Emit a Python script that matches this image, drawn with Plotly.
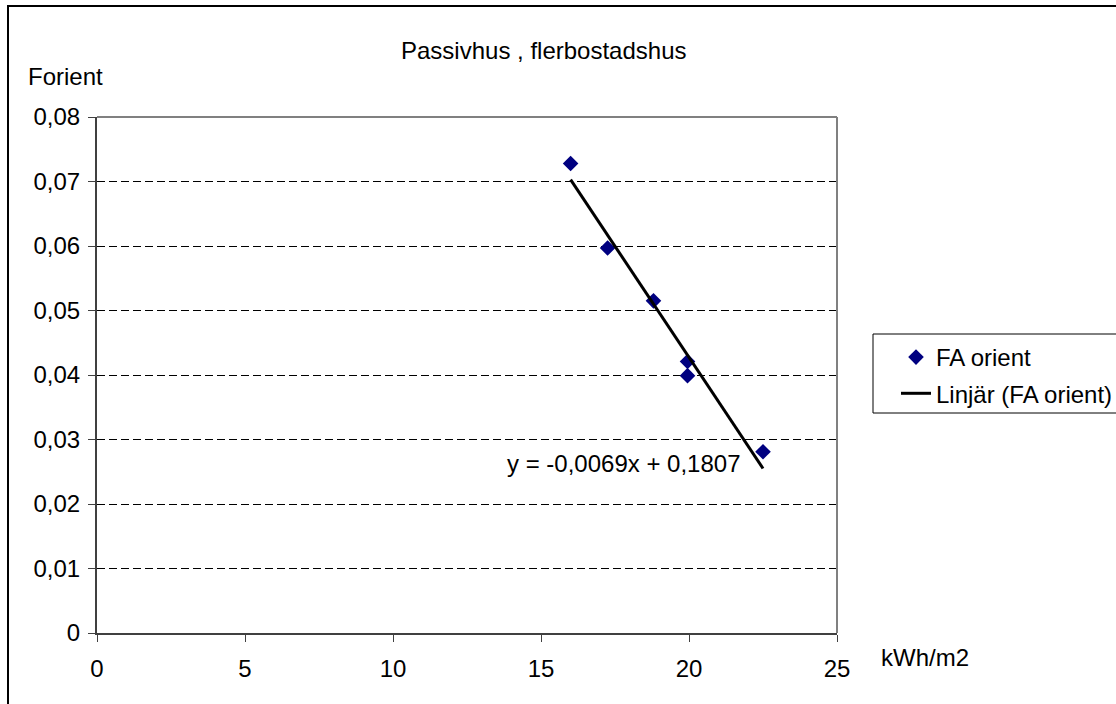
import plotly.graph_objects as go

# Data
x_vals = [16.0, 17.25, 18.8, 19.95, 19.95, 22.5]
y_vals = [0.0728, 0.0597, 0.0515, 0.0421, 0.0399, 0.0281]
trend_x = [16.0, 22.5]
trend_y = [0.0703, 0.0255]
x_ticks = [0, 5, 10, 15, 20, 25]
y_ticks = [0, 0.01, 0.02, 0.03, 0.04, 0.05, 0.06, 0.07, 0.08]

W, H = 1116, 704
L, R, T, B = 97, 837, 117, 633
FONT = "Liberation Sans, Arial, sans-serif"
FS = 24


def px(xp):
    return (xp - L) / (R - L)


def py(yp):
    return (B - yp) / (B - T)


fig = go.Figure()
fig.add_trace(go.Scatter(
    x=x_vals, y=y_vals, mode="markers", name="FA orient",
    marker=dict(symbol="diamond", size=12, color="#000080"),
    legendgroup="a", cliponaxis=False,
))
fig.add_trace(go.Scatter(
    x=trend_x, y=trend_y, mode="lines", name="Linjär (FA orient)",
    line=dict(color="black", width=3), legendgroup="b",
))

fig.update_layout(
    width=W, height=H,
    margin=dict(l=L, r=W - R, t=T, b=H - B, autoexpand=False),
    paper_bgcolor="white", plot_bgcolor="white",
    separators=", ",
    font=dict(family=FONT, size=FS, color="black"),
    showlegend=True,
    legend=dict(
        x=px(896), y=py(335), xanchor="left", yanchor="top",
        bgcolor="rgba(0,0,0,0)", borderwidth=0,
        font=dict(family=FONT, size=FS, color="black"),
        tracegroupgap=2, itemwidth=30,
    ),
    xaxis=dict(
        range=[0, 25], tickvals=x_ticks, showgrid=False, zeroline=False,
        showline=True, linecolor="#404040", linewidth=2,
        ticks="outside", ticklen=7, tickcolor="#404040", tickwidth=1,
        ticklabelstandoff=6, fixedrange=True, automargin=False,
        tickfont=dict(size=FS),
    ),
    yaxis=dict(
        range=[0, 0.08], tickvals=y_ticks, showgrid=True,
        gridcolor="black", griddash="8px,4px", gridwidth=1, zeroline=False,
        showline=True, linecolor="#404040", linewidth=2,
        ticks="outside", ticklen=7, tickcolor="#404040", tickwidth=1,
        ticklabelstandoff=3, fixedrange=True, automargin=False,
        tickfont=dict(size=FS),
    ),
    shapes=[
        # plot frame top and right (gray)
        dict(type="line", xref="paper", yref="paper", x0=0, x1=1, y0=1, y1=1,
             line=dict(color="#808080", width=2), layer="above"),
        dict(type="line", xref="paper", yref="paper", x0=1, x1=1, y0=0, y1=1,
             line=dict(color="#808080", width=2), layer="above"),
        # outer chart border
        dict(type="rect", xref="paper", yref="paper",
             x0=px(8), x1=px(1125), y0=py(715), y1=py(6),
             line=dict(color="black", width=2), layer="above"),
        # legend box
        dict(type="rect", xref="paper", yref="paper",
             x0=px(873), x1=px(1125), y0=py(413), y1=py(334),
             line=dict(color="black", width=1), layer="above"),
    ],
    annotations=[
        dict(text="Passivhus , flerbostadshus", xref="paper", yref="paper",
             x=px(543), y=py(50), xanchor="center", yanchor="middle",
             showarrow=False, font=dict(size=FS)),
        dict(text="Forient", xref="paper", yref="paper",
             x=px(26), y=py(76), xanchor="left", yanchor="middle",
             showarrow=False, font=dict(size=FS)),
        dict(text="kWh/m2", xref="paper", yref="paper",
             x=px(879), y=py(657), xanchor="left", yanchor="middle",
             showarrow=False, font=dict(size=FS)),
        dict(text="y = -0,0069x + 0,1807", xref="paper", yref="paper",
             x=px(624), y=py(463), xanchor="center", yanchor="middle",
             showarrow=False, font=dict(size=FS)),
    ],
)

fig.write_html("out.html")
